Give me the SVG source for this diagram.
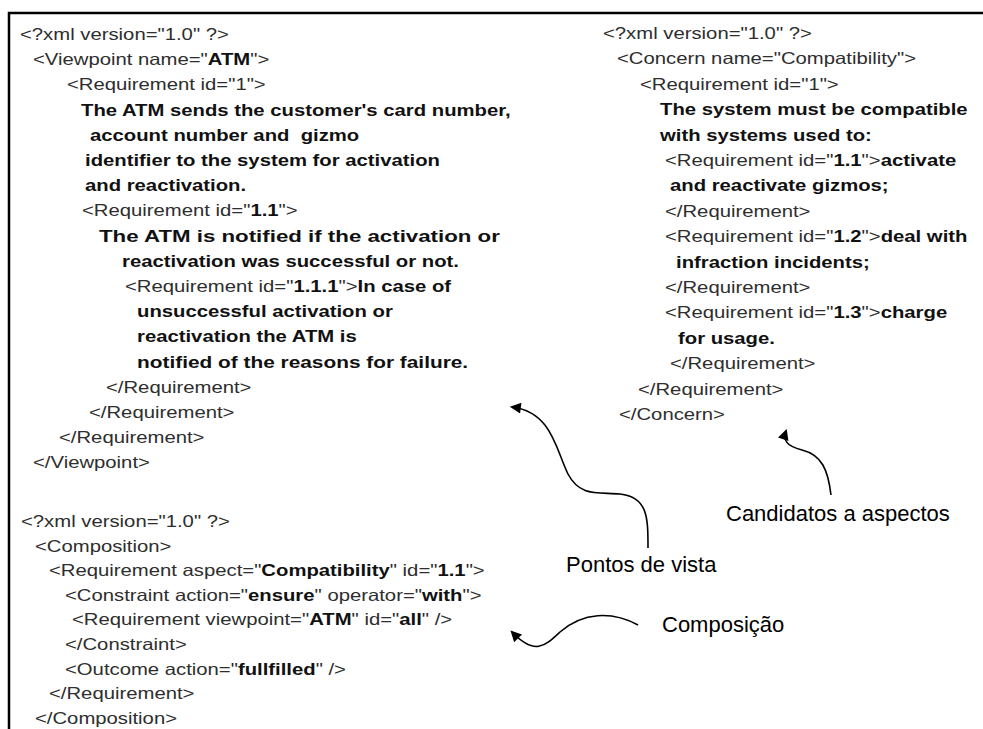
<svg xmlns="http://www.w3.org/2000/svg" width="983" height="729" viewBox="0 0 983 729">
<style>
.c{font-family:"Liberation Sans",Arial,sans-serif;font-size:16.3px;fill:#2e2e2e}
.b{font-weight:bold;fill:#111}
.lbl{font-family:"Liberation Sans",Arial,sans-serif;font-size:22px;fill:#000}
.arr{fill:none;stroke:#000;stroke-width:1.6}
</style>
<defs>
<marker id="ah" viewBox="0 0 10 10" refX="8" refY="5" markerWidth="13" markerHeight="11" markerUnits="userSpaceOnUse" orient="auto"><path d="M0,0 L10,5 L0,10 z" fill="#000"/></marker>
</defs>
<rect width="983" height="729" fill="#fff"/>
<path d="M9,729 V13 H983" fill="none" stroke="#000" stroke-width="2.5"/>

<g id="viewpoint">
<text class="c" transform="translate(20,40) scale(1.245,1)">&lt;?xml version="1.0" ?&gt;</text>
<text class="c" transform="translate(33,65.2) scale(1.245,1)">&lt;Viewpoint name="<tspan class="b">ATM</tspan>"&gt;</text>
<text class="c" transform="translate(67,90.4) scale(1.245,1)">&lt;Requirement id="1"&gt;</text>
<text class="c b" transform="translate(81,115.6) scale(1.245,1)">The ATM sends the customer's card number,</text>
<text class="c b" xml:space="preserve" transform="translate(90,140.8) scale(1.245,1)">account number and  gizmo</text>
<text class="c b" transform="translate(85,166) scale(1.245,1)">identifier to the system for activation</text>
<text class="c b" transform="translate(85,191.2) scale(1.245,1)">and reactivation.</text>
<text class="c" transform="translate(82,216.4) scale(1.245,1)">&lt;Requirement id="<tspan class="b">1.1</tspan>"&gt;</text>
<text class="c b" textLength="322" lengthAdjust="spacingAndGlyphs" transform="translate(99,241.6) scale(1.245,1)">The ATM is notified if the activation or</text>
<text class="c b" transform="translate(122,266.8) scale(1.245,1)">reactivation was successful or not.</text>
<text class="c" transform="translate(125,292) scale(1.245,1)">&lt;Requirement id="<tspan class="b">1.1.1</tspan>"&gt;<tspan class="b">In case of</tspan></text>
<text class="c b" transform="translate(137,317.2) scale(1.245,1)">unsuccessful activation or</text>
<text class="c b" transform="translate(137,342.4) scale(1.245,1)">reactivation the ATM is</text>
<text class="c b" textLength="266" lengthAdjust="spacingAndGlyphs" transform="translate(137,367.6) scale(1.245,1)">notified of the reasons for failure.</text>
<text class="c" transform="translate(106,392.8) scale(1.245,1)">&lt;/Requirement&gt;</text>
<text class="c" transform="translate(89,418) scale(1.245,1)">&lt;/Requirement&gt;</text>
<text class="c" transform="translate(59,443.2) scale(1.245,1)">&lt;/Requirement&gt;</text>
<text class="c" transform="translate(33,468.4) scale(1.245,1)">&lt;/Viewpoint&gt;</text>
</g>

<g id="concern">
<text class="c" transform="translate(603,39) scale(1.245,1)">&lt;?xml version="1.0" ?&gt;</text>
<text class="c" transform="translate(617,64.4) scale(1.245,1)">&lt;Concern name="Compatibility"&gt;</text>
<text class="c" transform="translate(640,89.8) scale(1.245,1)">&lt;Requirement id="1"&gt;</text>
<text class="c b" transform="translate(660,115.2) scale(1.245,1)">The system must be compatible</text>
<text class="c b" transform="translate(660,140.6) scale(1.245,1)">with systems used to:</text>
<text class="c" transform="translate(665,166) scale(1.245,1)">&lt;Requirement id="<tspan class="b">1.1</tspan>"&gt;<tspan class="b">activate</tspan></text>
<text class="c b" transform="translate(670,191.4) scale(1.245,1)">and reactivate gizmos;</text>
<text class="c" transform="translate(665,216.8) scale(1.245,1)">&lt;/Requirement&gt;</text>
<text class="c" transform="translate(665,242.2) scale(1.245,1)">&lt;Requirement id="<tspan class="b">1.2</tspan>"&gt;<tspan class="b">deal with</tspan></text>
<text class="c b" transform="translate(676,267.6) scale(1.245,1)">infraction incidents;</text>
<text class="c" transform="translate(665,293) scale(1.245,1)">&lt;/Requirement&gt;</text>
<text class="c" transform="translate(665,318.4) scale(1.245,1)">&lt;Requirement id="<tspan class="b">1.3</tspan>"&gt;<tspan class="b">charge</tspan></text>
<text class="c b" transform="translate(678,343.8) scale(1.245,1)">for usage.</text>
<text class="c" transform="translate(670,369.2) scale(1.245,1)">&lt;/Requirement&gt;</text>
<text class="c" transform="translate(638,394.6) scale(1.245,1)">&lt;/Requirement&gt;</text>
<text class="c" transform="translate(619,420) scale(1.245,1)">&lt;/Concern&gt;</text>
</g>

<g id="composition">
<text class="c" transform="translate(21,527) scale(1.245,1)">&lt;?xml version="1.0" ?&gt;</text>
<text class="c" transform="translate(35,551.6) scale(1.245,1)">&lt;Composition&gt;</text>
<text class="c" transform="translate(49,576.2) scale(1.245,1)">&lt;Requirement aspect="<tspan class="b">Compatibility</tspan>" id="<tspan class="b">1.1</tspan>"&gt;</text>
<text class="c" transform="translate(65,600.8) scale(1.245,1)">&lt;Constraint action="<tspan class="b">ensure</tspan>" operator="<tspan class="b">with</tspan>"&gt;</text>
<text class="c" transform="translate(72,625.4) scale(1.245,1)">&lt;Requirement viewpoint="<tspan class="b">ATM</tspan>" id="<tspan class="b">all</tspan>" /&gt;</text>
<text class="c" transform="translate(65,650) scale(1.245,1)">&lt;/Constraint&gt;</text>
<text class="c" transform="translate(65,674.6) scale(1.245,1)">&lt;Outcome action="<tspan class="b">fullfilled</tspan>" /&gt;</text>
<text class="c" transform="translate(49,699.2) scale(1.245,1)">&lt;/Requirement&gt;</text>
<text class="c" transform="translate(35,723.8) scale(1.245,1)">&lt;/Composition&gt;</text>
</g>

<g id="label-candidatos"><text class="lbl" x="726" y="521">Candidatos a aspectos</text></g>
<g id="label-pontos"><text class="lbl" x="566" y="572">Pontos de vista</text></g>
<g id="label-composicao"><text class="lbl" x="662" y="632">Composição</text></g>

<g id="connectors">
<path class="arr" marker-end="url(#ah)" d="M648,548 C648,518 648,497 620,494 C598,492 580,497 568,474 C556,450 552,412 512,407"/>
<path class="arr" marker-end="url(#ah)" d="M831,495 C828,470 822,455 802,450 C786,446 783,440 786,431"/>
<path class="arr" marker-end="url(#ah)" d="M638,625 C612,611 583,612 560,632 C545,646 535,656 512,632"/>
</g>
</svg>
